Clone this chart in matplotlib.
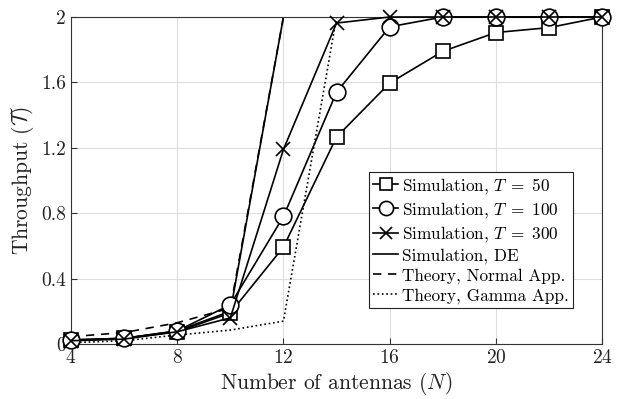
import numpy as np
import matplotlib
matplotlib.use('Agg')
import matplotlib.pyplot as plt

plt.rcParams['font.family'] = 'cmr10'
plt.rcParams['mathtext.fontset'] = 'cm'
plt.rcParams['axes.formatter.use_mathtext'] = True
plt.rcParams['font.size'] = 13

# antennas
N = [4, 6, 8, 10, 12, 14, 16, 18, 20, 22, 24]

# simulation, different T
sim_T50 = [0.025, 0.035, 0.075, 0.19, 0.593, 1.266, 1.596, 1.79, 1.905, 1.935, 2.0]
sim_T100 = [0.025, 0.035, 0.08, 0.24, 0.78, 1.54, 1.94, 2.0, 2.0, 2.0, 2.0]
sim_T300 = [0.02, 0.03, 0.075, 0.16, 1.19, 1.963, 2.0, 2.0, 2.0, 2.0, 2.0]
sim_DE = [0.02, 0.035, 0.08, 0.2, 2.0, 2.0, 2.0, 2.0, 2.0, 2.0, 2.0]

# theory
th_normal = [0.045, 0.07, 0.13, 0.22, 2.0, 2.0, 2.0, 2.0, 2.0, 2.0, 2.0]
th_gamma = [0.008, 0.02, 0.055, 0.085, 0.14, 2.0, 2.0, 2.0, 2.0, 2.0, 2.0]

fig = plt.figure(figsize=(6.19, 3.99), dpi=100)
ax = fig.add_axes([0.1147, 0.1378, 0.858, 0.8196])

mfc = 'white'
lw = 1.2
ax.plot(N, sim_T50, 'k-', marker='s', markersize=10, markerfacecolor=mfc, markeredgewidth=lw, lw=lw,
        label=r'Simulation, $T\;=\;50$', clip_on=False, zorder=3)
ax.plot(N, sim_T100, 'k-', marker='o', markersize=12, markerfacecolor=mfc, markeredgewidth=lw, lw=lw,
        label=r'Simulation, $T\;=\;100$', clip_on=False, zorder=3)
ax.plot(N, sim_T300, 'k-', marker='x', markersize=10, markeredgewidth=lw, lw=lw,
        label=r'Simulation, $T\;=\;300$', clip_on=False, zorder=3)
ax.plot(N, sim_DE, 'k-', lw=lw, label='Simulation, DE', zorder=2)
ax.plot(N, th_normal, 'k--', lw=lw, dashes=(5, 4), label='Theory, Normal App.', zorder=2)
ax.plot(N, th_gamma, 'k:', lw=lw, label='Theory, Gamma App.', zorder=2)

ax.set_xlim(4, 24)
ax.set_ylim(0, 2)
ax.set_xticks([4, 8, 12, 16, 20, 24])
ax.set_yticks([0, 0.4, 0.8, 1.2, 1.6, 2])
ax.set_yticklabels(['0', '0.4', '0.8', '1.2', '1.6', '2'])
ax.grid(True, color='#dddddd', lw=0.8)
ax.tick_params(direction='in', labelsize=14, length=4, colors='#333333', labelcolor='#222222')
for s in ax.spines.values():
    s.set_linewidth(0.8)
    s.set_color('#333333')

ax.set_xlabel(r'Number of antennas ($N$)', fontsize=15.5, color='#222222', labelpad=2)
ax.set_ylabel(r'Throughput ($\mathcal{T}$)', fontsize=15.5, color='#222222', labelpad=4)

leg = ax.legend(loc='lower right', bbox_to_anchor=(0.945, 0.11), fontsize=12.4, frameon=True,
                fancybox=False, edgecolor='#222222', framealpha=1, handlelength=1.45, handletextpad=0.2,
                borderpad=0.25, labelspacing=0.24, borderaxespad=0, markerscale=0.85)
leg.get_frame().set_linewidth(0.8)
leg.set_zorder(5)

fig.savefig('out.png', dpi=100)
